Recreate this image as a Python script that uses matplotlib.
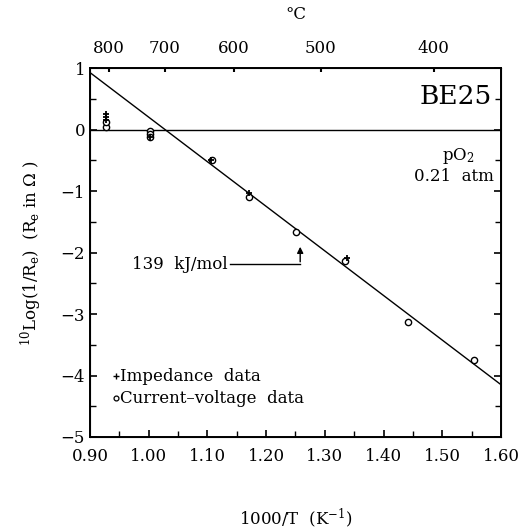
import numpy as np
import matplotlib.pyplot as plt

plt.rcParams['font.family'] = ['DejaVu Serif']
plt.rcParams['mathtext.default'] = 'regular'

imp_x = [0.928, 0.928, 0.928, 1.003, 1.106, 1.170, 1.337]
imp_y = [0.15, 0.20, 0.25, -0.12, -0.50, -1.03, -2.09]
iv_x = [0.927, 0.928, 1.003, 1.003, 1.003, 1.107, 1.171, 1.251, 1.334, 1.441, 1.554]
iv_y = [0.05, 0.12, -0.02, -0.07, -0.12, -0.50, -1.09, -1.66, -2.13, -3.13, -3.74]

# 139 kJ/mol fit line
fit_x = [0.90, 1.60]
fit_y = [0.93, -4.15]

celsius = [800, 700, 600, 500, 400]

fig = plt.figure(figsize=(5.23, 5.29), dpi=100)
ax = fig.add_axes([0.172, 0.174, 0.786, 0.697])

ax.plot(fit_x, fit_y, color='black', lw=1.0)
ax.axhline(0, color='black', lw=1.0)
ax.plot(iv_x, iv_y, 'o', mfc='white', mec='black', ms=4.5, mew=1.0)
ax.plot(imp_x, imp_y, '+', color='black', ms=5, mew=1.3)

ax.set_xlim(0.90, 1.60)
ax.set_ylim(-5, 1)
ax.set_xticks(np.arange(0.90, 1.601, 0.10))
ax.set_xticklabels(['%.2f' % v for v in np.arange(0.90, 1.601, 0.10)])
ax.set_xticks(np.arange(0.95, 1.60, 0.10), minor=True)
ax.set_yticks(range(-5, 2))
ax.set_yticklabels([str(v).replace('-', '\u2212') for v in range(-5, 2)])
ax.set_yticks(np.arange(-4.5, 1, 1.0), minor=True)
ax.tick_params(axis='both', which='both', direction='in', labelsize=12, right=True)
ax.tick_params(which='major', length=5, width=1.2)
ax.tick_params(which='minor', length=4, width=1.0)
ax.tick_params(axis='x', pad=8)
for s in ax.spines.values():
    s.set_linewidth(1.4)

top = ax.twiny()
top.set_xlim(ax.get_xlim())
top.set_xticks([1000.0 / (c + 273.15) for c in celsius])
top.set_xticklabels([str(c) for c in celsius])
top.tick_params(direction='in', length=3, width=1.5, labelsize=12, pad=8)
top.set_xlabel('\u00b0C', fontsize=12, labelpad=15)

ax.set_xlabel('1000/T  (K$^{-1}$)', fontsize=12, labelpad=30)
ax.set_ylabel('$^{10}$Log(1/R$_e$)  (R$_e$ in \u03a9 )', fontsize=12, labelpad=12)

ax.text(1.522, 0.545, 'BE25', fontsize=19, ha='center', va='center')
ax.text(1.527, -0.43, 'pO$_2$', fontsize=12, ha='center', va='center')
ax.text(1.520, -0.76, '0.21  atm', fontsize=12, ha='center', va='center')

ax.text(0.972, -2.19, '139  kJ/mol', fontsize=12, ha='left', va='center')
ax.plot([1.138, 1.258], [-2.19, -2.19], color='black', lw=1.0)
ax.annotate('', xy=(1.258, -1.86), xytext=(1.258, -2.195),
            arrowprops=dict(arrowstyle='-|>', color='black', lw=1.0, mutation_scale=9))

ax.plot([0.945], [-4.01], '+', color='black', ms=4, mew=1.0)
ax.text(0.952, -4.01, 'Impedance  data', fontsize=12, ha='left', va='center')
ax.plot([0.945], [-4.37], 'o', mfc='white', mec='black', ms=3.5, mew=0.9)
ax.text(0.952, -4.37, 'Current\u2013voltage  data', fontsize=12, ha='left', va='center')

fig.savefig('out.png', dpi=100)
